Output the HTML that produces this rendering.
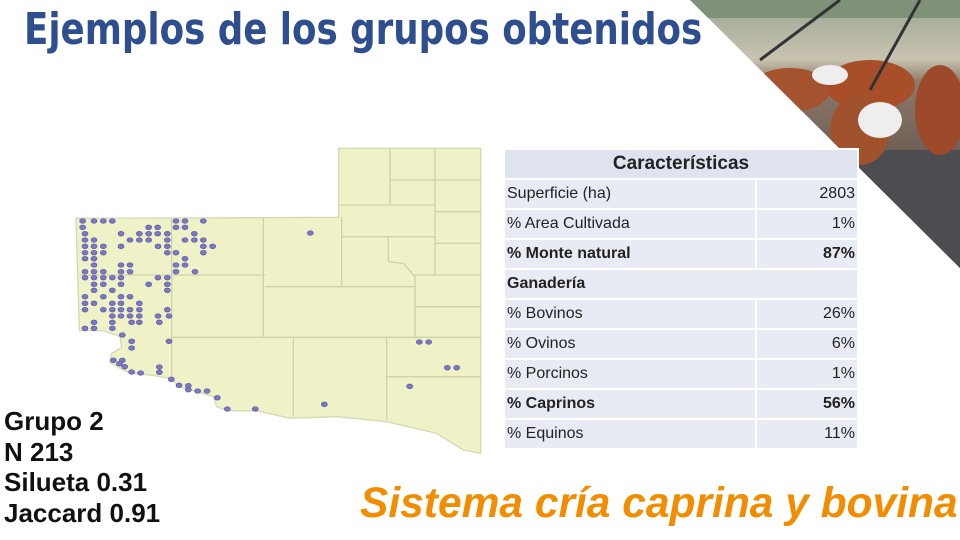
<!DOCTYPE html>
<html><head><meta charset="utf-8"><style>
body{margin:0;width:960px;height:540px;overflow:hidden;background:#fff;font-family:"Liberation Sans",sans-serif;position:relative}
.title{position:absolute;left:24px;top:4px;font-size:44px;font-weight:bold;color:#2e4e8f;white-space:nowrap;font-family:"DejaVu Sans","Liberation Sans",sans-serif;transform:scaleX(0.81);transform-origin:left}
table{position:absolute;left:503px;top:148px;width:356px;border-collapse:collapse;background:#e8ebf3;font-family:"Liberation Sans",sans-serif;font-size:16px;color:#222;table-layout:fixed}
td{height:28px;border:2px solid #fff;padding:0 2px;white-space:nowrap}
td.r{text-align:right}
.b{font-weight:bold}
.info{position:absolute;left:4px;top:406px;font-size:26px;font-weight:bold;line-height:30.5px;color:#111}
.sub{position:absolute;left:360px;top:480px;font-size:42.5px;font-weight:bold;font-style:italic;color:#f28c00;white-space:nowrap}
</style></head><body>
<svg style="position:absolute;left:0;top:0" width="960" height="540">
<defs><clipPath id="tri"><polygon points="690,0 960,0 960,268"/></clipPath>
<linearGradient id="bg" x1="0" y1="0" x2="0" y2="1"><stop offset="0" stop-color="#9aa594"/><stop offset="0.22" stop-color="#c9c3b0"/><stop offset="0.3" stop-color="#8c7b6a"/><stop offset="0.6" stop-color="#6b5a52"/><stop offset="1" stop-color="#4a4a4e"/></linearGradient></defs>
<g clip-path="url(#tri)">
<rect x="690" y="0" width="270" height="270" fill="url(#bg)"/>
<rect x="690" y="0" width="270" height="18" fill="#7f9278"/>
<rect x="690" y="150" width="270" height="120" fill="#4d4c50"/>
<ellipse cx="790" cy="90" rx="40" ry="22" fill="#a5522e"/>
<ellipse cx="870" cy="85" rx="45" ry="25" fill="#a84f2a"/>
<ellipse cx="940" cy="110" rx="25" ry="45" fill="#9c4a2a"/>
<ellipse cx="860" cy="130" rx="30" ry="35" fill="#a0522d"/>
<ellipse cx="880" cy="120" rx="22" ry="18" fill="#eee"/>
<ellipse cx="830" cy="75" rx="18" ry="10" fill="#eee"/>
<line x1="760" y1="60" x2="840" y2="0" stroke="#333" stroke-width="3"/>
<line x1="870" y1="90" x2="920" y2="0" stroke="#333" stroke-width="3"/>
</g></svg>
<div class="title">Ejemplos de los grupos obtenidos</div>

<svg style="position:absolute;left:70px;top:140px" width="420" height="320" viewBox="0 0 1260 960">
<path d="M18,235 L806,232 L806,25 L1232,25 L1232,940 L1180,930 L1100,880 L950,845 L800,830 L660,835 L560,812 L470,812 L440,800 L430,770 L330,740 L300,715 L240,705 L180,700 L150,685 L120,668 L125,640 L155,622 L150,590 L100,572 L28,572 Z" fill="#eff2c6" stroke="#d6d9b2" stroke-width="4"/>
<g stroke="#cfd2ad" stroke-width="4" fill="none">
<path d="M305,235V720 M28,405H585 M580,235V590 M585,440H1035 M305,592H1232 M815,232V440 M806,195H1095 M815,290H1095 M960,25V195 M955,290V365 L1000,370 L1035,410 M1095,25V405 M960,120H1232 M1095,215H1232 M1095,310H1232 M1035,405H1232 M1035,500H1232 M1035,405V595 M670,595V830 M950,595V840 M950,710H1232"/>
</g>
<g id="dots" fill="#7b78c8" stroke="#5a57a0" stroke-width="2"></g>
</svg>

<table>
<colgroup><col style="width:252px"><col></colgroup>
<tr><td colspan="2" style="text-align:center;font-size:19px;background:#dfe3ee" class="b">Características</td></tr>
<tr><td>Superficie (ha)</td><td class="r">2803</td></tr>
<tr><td>% Area Cultivada</td><td class="r">1%</td></tr>
<tr class="b"><td>% Monte natural</td><td class="r">87%</td></tr>
<tr class="b"><td colspan="2">Ganadería</td></tr>
<tr><td>% Bovinos</td><td class="r">26%</td></tr>
<tr><td>% Ovinos</td><td class="r">6%</td></tr>
<tr><td>% Porcinos</td><td class="r">1%</td></tr>
<tr class="b"><td>% Caprinos</td><td class="r">56%</td></tr>
<tr><td>% Equinos</td><td class="r">11%</td></tr>
</table>
<div class="info">Grupo 2<br>N 213<br>Silueta 0.31<br>Jaccard 0.91</div>
<div class="sub">Sistema cría caprina y bovina</div>
<script>
const dotX=[38,72,100,127,38,236,263,318,345,400,45,153,208,236,263,292,318,345,373,45,72,180,208,236,292,345,373,400,45,72,100,153,264,292,400,428,45,72,100,292,318,400,45,72,345,72,153,180,318,345,45,72,100,153,180,318,375,45,72,100,127,153,264,292,72,100,153,236,292,72,127,292,45,100,153,180,45,72,127,153,208,45,100,127,153,180,208,292,127,153,180,208,264,297,72,127,185,208,268,45,72,127,157,185,297,185,130,157,148,164,185,212,268,268,304,327,355,355,383,411,442,472,556,721,1048,1076,1132,1160,1019,763];
const dotY=[243,243,243,243,262,262,262,243,243,243,281,281,281,281,281,281,262,262,281,300,300,300,300,300,300,300,300,300,319,319,319,319,319,319,319,319,338,338,338,338,338,338,356,356,356,375,375,375,375,375,395,395,395,395,395,395,395,413,413,413,413,413,413,413,433,433,433,433,433,451,451,451,470,470,470,470,490,490,490,490,490,509,509,509,509,509,509,509,528,528,528,528,528,528,547,547,547,547,547,565,565,565,585,604,604,624,661,661,671,680,696,699,681,697,718,736,737,749,753,753,773,807,807,279,606,606,683,683,739,793];
const g=document.getElementById('dots');
for(let i=0;i<dotX.length;i++){const c=document.createElementNS('http://www.w3.org/2000/svg','ellipse');
c.setAttribute('cx',dotX[i]);c.setAttribute('cy',dotY[i]);c.setAttribute('rx',9);c.setAttribute('ry',7);


g.appendChild(c);}
</script>
</body></html>
